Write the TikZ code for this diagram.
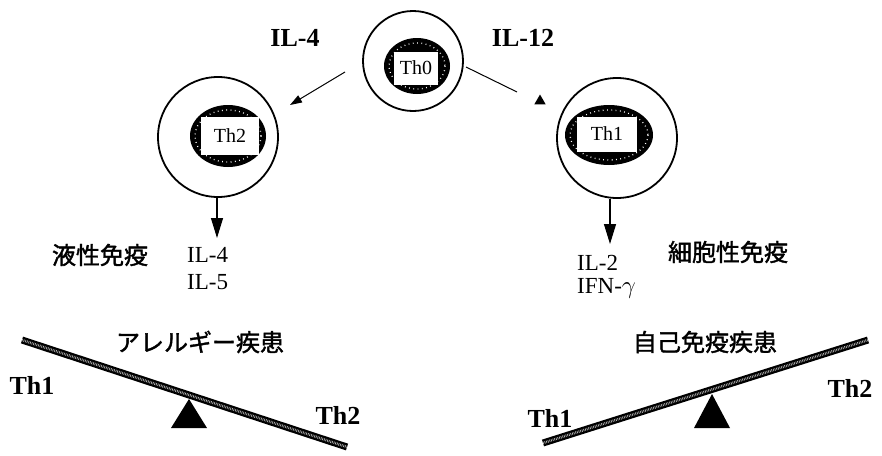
\documentclass[tikz,border=0pt]{standalone}
\usepackage{fontspec}
\setmainfont{Liberation Serif}
\newfontfamily\jfont{Noto Sans CJK JP}[FakeBold=1.6]
\usetikzlibrary{arrows.meta,shapes}

\begin{document}
\begin{tikzpicture}[x=1pt,y=-1pt]
      \tikzstyle{every node}=[inner sep=0pt]
      \tikzstyle{cell}=[draw,circle,line width=1.8pt]
      \tikzstyle{core}=[fill=white,font=\fontsize{20}{20}\selectfont]
      \tikzstyle{il}=[font=\fontsize{26}{26}\selectfont\bfseries]
      \tikzstyle{cyto}=[font=\fontsize{23}{23}\selectfont,anchor=west]
      \tikzstyle{jp}=[font=\fontsize{24}{24}\selectfont\jfont]
      \tikzstyle{side}=[font=\fontsize{26}{26}\selectfont\bfseries]
      \tikzstyle{beam}=[line width=7pt]
      \tikzstyle{hatch}=[white!70!black,line width=2.5pt,dash pattern=on 0.7pt off 1pt]
      \tikzstyle{push}=[line width=1pt,-{Triangle[length=12pt,width=8pt]}]
      \tikzstyle{down}=[line width=1.2pt,-{Triangle[length=20pt,width=12pt]}]
      \useasboundingbox (0,0) rectangle (882,455);

%% cells
\node (th0) at (413,61) [cell,minimum size=100pt] {};
\node (th2) at (218,137) [cell,minimum size=120pt] {};
\node (th1) at (617,138) [cell,minimum size=120pt] {};
\fill (417,66) ellipse (33 and 28);
\draw [white,line width=1.3pt,dash pattern=on 0.8pt off 3.5pt] (417,66) ellipse (28 and 23);
\fill (228,136) ellipse (38 and 31);
\draw [white,line width=1.3pt,dash pattern=on 0.8pt off 3.5pt] (228,136) ellipse (33 and 26);
\fill (609,135) ellipse (44 and 30);
\draw [white,line width=1.3pt,dash pattern=on 0.8pt off 3.5pt] (609,135) ellipse (39 and 25);
\node (c0) at (416,68) [core,minimum width=44pt,minimum height=33pt] {Th0};
\node (c2) at (230,136) [core,minimum width=58pt,minimum height=38pt] {Th2};
\node (c1) at (607,134) [core,minimum width=60pt,minimum height=35pt] {Th1};

%% differentiation
\node (il4) at (295,38) [il] {IL-4};
\node (il12) at (523,38) [il] {IL-12};
\coordinate (p0l) at (345,72);
\coordinate (p2) at (290,105);
\draw [push] (p0l) -- (p2);
\coordinate (p0r) at (466,67);
\coordinate (p1) at (517,92);
\draw [line width=1pt] (p0r) -- (p1);
\node (tip) at (540,101) [fill,regular polygon,regular polygon sides=3,minimum size=13pt] {};

%% cytokines
\coordinate (d2) at (217,238);
\coordinate (d1) at (610,244);
\draw [down] (th2.south -| d2) -- (d2);
\draw [down] (th1.south -| d1) -- (d1);
\node (humoral) at (100,255) [jp] {液性免疫};
\node (il4b) at (187,255) [cyto] {IL-4};
\node (il5) at (187,282) [cyto] {IL-5};
\node (il2) at (577,263) [cyto] {IL-2};
\node (ifn) at (577,288) [cyto] {IFN-$\gamma$};
\node (cellular) at (728,252) [jp] {細胞性免疫};

%% balances
\node (allergy) at (200,342) [jp] {アレルギー疾患};
\node (auto) at (705,342) [jp] {自己免疫疾患};
\coordinate (la) at (22,340);
\coordinate (lb) at (347,447);
\draw [beam] (la) -- (lb);
\draw [hatch] (la) -- (lb);
\fill (189,399) -- (207,428) -- (171,428) -- cycle;
\coordinate (ra) at (543,443);
\coordinate (rb) at (868,340);
\draw [beam] (ra) -- (rb);
\draw [hatch] (ra) -- (rb);
\fill (712,394) -- (730,428) -- (694,428) -- cycle;
\node (l1) at (32,385) [side] {Th1};
\node (l2) at (338,415) [side] {Th2};
\node (r1) at (550,418) [side] {Th1};
\node (r2) at (850,388) [side] {Th2};
%
    \end{tikzpicture}
\end{document}
